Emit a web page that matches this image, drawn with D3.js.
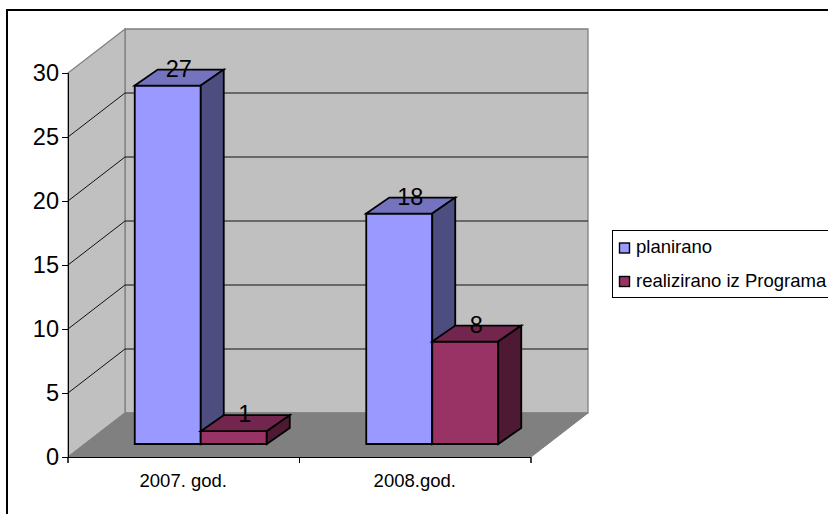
<!DOCTYPE html>
<html><head><meta charset="utf-8">
<script src="https://cdn.jsdelivr.net/npm/d3@7"></script>
<style>html,body{margin:0;padding:0;background:#fff}svg{display:block}text{font-family:"Liberation Sans",Arial,sans-serif;fill:#000}</style>
</head><body><svg id="c" width="828" height="514"></svg>
<script>
const categories = ["2007. god.", "2008.god."];
const seriesNames = ["planirano", "realizirano iz Programa"];
const planirano = [28, 18];
const realizirano = [1, 8];
const planiranoLabels = ["27", "18"];
const realiziranoLabels = ["1", "8"];
const yTicks = [0, 5, 10, 15, 20, 25, 30];

const svg = d3.select("#c");
const y = d3.scaleLinear().domain([0, 30]).range([457, 73]);
const x = d3.scaleBand().domain(categories).range([68, 531]);
// 3D box depth of the chart, and of the bars
const D = {dx: 57, dy: -44};
const barInset = {dx: 17, dy: -13}, barD = {dx: 23, dy: -16};
const barW = 66, groupPad = (x.bandwidth() - 2 * barW) / 2;
const line = pts => "M" + pts.map(p => p.join(",")).join("L") + "Z";

svg.append("rect").attr("x", 7).attr("y", 10).attr("width", 900).attr("height", 600)
  .attr("fill", "#fff").attr("stroke", "#000").attr("stroke-width", 2);

const L = x.range()[0], R = x.range()[1], T = y(30), B = y(0);
// back wall, side wall, floor
svg.append("path").attr("d", line([[L + D.dx, T + D.dy], [R + D.dx, T + D.dy], [R + D.dx, B + D.dy], [L + D.dx, B + D.dy]]))
  .attr("fill", "#c0c0c0").attr("stroke", "#808080").attr("stroke-width", 1.3);
svg.append("path").attr("d", line([[L, T], [L + D.dx, T + D.dy], [L + D.dx, B + D.dy], [L, B]]))
  .attr("fill", "#c0c0c0").attr("stroke", "#808080").attr("stroke-width", 1.3);
svg.append("path").attr("d", line([[L, B], [R, B], [R + D.dx, B + D.dy], [L + D.dx, B + D.dy]]))
  .attr("fill", "#808080").attr("stroke", "#808080").attr("stroke-width", 1);

// gridlines
yTicks.filter(t => t > 0 && t < 30).forEach(t => {
  svg.append("path").attr("fill", "none").attr("stroke", "#111").attr("stroke-width", 1)
    .attr("d", `M${L},${y(t)}L${L + D.dx},${y(t) + D.dy}L${R + D.dx},${y(t) + D.dy}`);
});

// axes
const axisY = d3.axisLeft(y).tickValues(yTicks).tickSize(6).tickPadding(3);
const gy = svg.append("g").attr("transform", `translate(${L},0)`).call(axisY);
gy.selectAll("text").style("font-family", '"Liberation Sans",Arial,sans-serif').style("font-size", "23.5px");
gy.selectAll("line,path").attr("stroke", "#000").attr("stroke-width", 1);
const axisX = d3.axisBottom(x).tickSize(6).tickPadding(11);
const gx = svg.append("g").attr("transform", `translate(-0.5,${B})`).call(axisX);
gx.selectAll("text").style("font-family", '"Liberation Sans",Arial,sans-serif').style("font-size", "18.5px");
gx.selectAll(".tick line").remove();
gx.select("path").attr("stroke", "#000").attr("stroke-width", 1);
[L, (L + R) / 2, R].forEach(v => svg.append("line").attr("x1", v).attr("x2", v).attr("y1", B).attr("y2", B + 6).attr("stroke", "#000"));

// bars
const fills = [
  {front: "#9999ff", top: "#7373bf", side: "#4d4d80"},
  {front: "#993366", top: "#73264d", side: "#4d1933"}
];
const values = [planirano, realizirano];
const labels = [planiranoLabels, realiziranoLabels];
const drawBar = (s, i) => {
  const x0 = x(categories[i]) + groupPad + s * barW + barInset.dx;
  const x1 = x0 + barW;
  const yb = B + barInset.dy;
  const yt = yb - (y(0) - y(values[s][i]));
  const c = fills[s];
  const g = svg.append("g").attr("stroke", "#000").attr("stroke-width", 1.8).attr("stroke-linejoin", "miter");
  g.append("path").attr("fill", c.front).attr("d", line([[x0, yt], [x1, yt], [x1, yb], [x0, yb]]));
  g.append("path").attr("fill", c.top).attr("d", line([[x0, yt], [x0 + barD.dx, yt + barD.dy], [x1 + barD.dx, yt + barD.dy], [x1, yt]]));
  g.append("path").attr("fill", c.side).attr("d", line([[x1, yt], [x1 + barD.dx, yt + barD.dy], [x1 + barD.dx, yb + barD.dy], [x1, yb]]));
  svg.append("text").attr("x", x0 + barW / 2 + 11).attr("y", yt + barD.dy + 7)
    .attr("text-anchor", "middle").attr("font-size", 23.5).text(labels[s][i]);
};
categories.forEach((_, i) => { drawBar(0, i); drawBar(1, i); });

// legend
svg.append("rect").attr("x", 612.5).attr("y", 230.5).attr("width", 300).attr("height", 67)
  .attr("fill", "#fff").attr("stroke", "#000").attr("stroke-width", 1);
seriesNames.forEach((n, i) => {
  const ly = 248 + i * 33.5;
  svg.append("rect").attr("x", 619.5).attr("y", ly - 5).attr("width", 10).attr("height", 10)
    .attr("fill", fills[i].front).attr("stroke", "#000").attr("stroke-width", 1.4);
  svg.append("text").attr("x", 636).attr("y", ly + 5).attr("font-size", 18.5).text(n);
});
</script></body></html>
